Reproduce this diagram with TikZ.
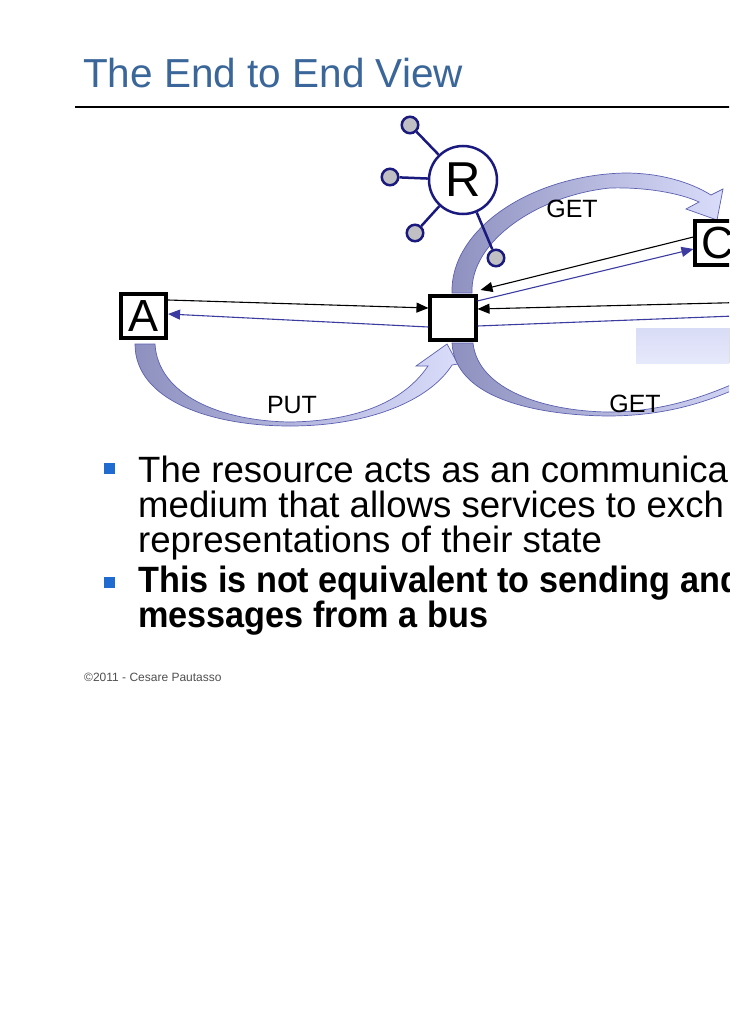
\documentclass[tikz,border=0pt]{standalone}
\usepackage{fontspec}
\setmainfont{Liberation Sans}
\newfontfamily\bnarrow{Liberation Sans}[FakeStretch=0.935]
\usetikzlibrary{arrows.meta}
\definecolor{titleblue}{HTML}{3B6699}
\definecolor{navy}{HTML}{1A1A7E}
\definecolor{linkblue}{HTML}{3C3CA0}
\definecolor{banddark}{HTML}{8E91BF}
\definecolor{bandlight}{HTML}{DADCFA}
\definecolor{bandedge}{HTML}{5C60B0}
\definecolor{satgray}{HTML}{C0C0C4}
\definecolor{bullblue}{HTML}{1F6BD0}
\definecolor{panelA}{HTML}{D9DCF6}
\definecolor{panelB}{HTML}{E6E8FB}
\definecolor{footgray}{HTML}{505050}
\begin{document}
\begin{tikzpicture}[x=1pt,y=-1pt,
  box/.style={draw=black,line width=3.6pt,fill=white,minimum width=45.5pt,minimum height=44.5pt,inner sep=0pt,font=\fontsize{45}{45}\selectfont},
  sat/.style={circle,draw=navy,line width=2.5pt,fill=satgray,minimum size=16.5pt,inner sep=0pt},
  resnode/.style={circle,draw=navy,line width=2.5pt,fill=white,minimum size=68pt,inner sep=0pt,font=\fontsize{49}{49}\selectfont},
  spoke/.style={draw=navy,line width=2.5pt},
  band/.style={draw=bandedge,line width=0.7pt,left color=banddark,right color=bandlight},
  blk/.style={draw=black,line width=1.1pt,-{Triangle[length=12pt,width=10pt]}},
  blu/.style={draw=linkblue,line width=1.1pt,-{Triangle[length=12pt,width=10pt]}},
  lbl/.style={anchor=base,inner sep=0pt,font=\fontsize{25}{25}\selectfont},
  bul/.style={anchor=base west,inner sep=0pt,font=\fontsize{36.6}{37}\selectfont},
]
\path[use as bounding box] (0,0) rectangle (729,1030);
\fill[white] (0,0) rectangle (729,1030);
\clip (0,0) rectangle (729,1030);

% title
\node[anchor=base west,inner sep=0pt,text=titleblue,font=\fontsize{40.5}{41}\selectfont] (title) at (83,88) {The End to End View};
\draw[line width=1.3pt] (75,107) -- (740,107);

% curved block arrows
\path[band] (135,344) .. controls (135,400) and (210,426) .. (290,426)
  .. controls (370,426) and (430,400) .. (452,365)
  -- (458,364) -- (447,344) -- (416,366) -- (428,366)
  .. controls (405,400) and (360,421) .. (290,422)
  .. controls (220,421) and (158,395) .. (155,344) -- cycle;
\path[band] (452,293) .. controls (450,230) and (530,175) .. (625,173)
  .. controls (660,173) and (690,182) .. (711,195)
  -- (723,189) -- (717,220) -- (686,209) -- (699,202)
  .. controls (680,193) and (645,187) .. (610,188)
  .. controls (540,195) and (470,240) .. (472,293) -- cycle;
\path[band] (452,343) .. controls (455,400) and (540,415) .. (607,416)
  .. controls (660,416) and (710,405) .. (770,372)
  -- (770,366)
  .. controls (710,398) and (660,412) .. (607,412)
  .. controls (545,411) and (478,390) .. (473,343) -- cycle;

% shaded panel
\fill[top color=panelA,bottom color=panelB] (636,328) rectangle (760,363);

% resource
\node[sat] (s1) at (410,125) {};
\node[sat] (s2) at (390,177) {};
\node[sat] (s3) at (415,233) {};
\node[sat] (s4) at (496,258) {};
\node[resnode] (R) at (463,180) {R};
\draw[spoke] (R) -- (s1);
\draw[spoke] (R) -- (s2);
\draw[spoke] (R) -- (s3);
\draw[spoke] (R) -- (s4);

% boxes
\node[box] (A) at (143.5,316) {A};
\node[box] (hub) at (453,318) {};
\node[box] (C) at (718,243) {C};
\coordinate (Dtop) at (760,302);
\coordinate (Dbot) at (760,315);

% connectors
\draw[blk] ([yshift=16pt]A.east) -- ([yshift=10pt]hub.west);
\draw[blu] ([yshift=-9pt]hub.west) -- ([yshift=2pt]A.east);
\draw[blk] ([yshift=6pt]C.west) -- ([shift={(3pt,4pt)}]hub.north east);
\draw[blu] ([yshift=-7pt]hub.north east) -- ([yshift=-6pt]C.west);
\draw[blk] (Dtop) -- ([yshift=9pt]hub.east);
\draw[blu] ([yshift=-8pt]hub.east) -- (Dbot);

% labels
\node[lbl] (lget1) at (572,217) {GET};
\node[lbl] (lput) at (292,413) {PUT};
\node[lbl] (lget2) at (635,412) {GET};

% bullets
\fill[bullblue] (104,463) rectangle (115,474);
\fill[bullblue] (104,577) rectangle (115,588);
\node[bul] (t1) at (138,482) {The resource acts as an communica};
\node[bul] (t2) at (138,517) {medium that allows services to exch};
\node[bul] (t3) at (138,552) {representations of their state};
\node[bul,font=\fontsize{36.6}{37}\bnarrow\bfseries] (t4) at (138,592) {This is not equivalent to sending and};
\node[bul,font=\fontsize{36.6}{37}\bnarrow\bfseries] (t5) at (138,627) {messages from a bus};

% footer
\node[anchor=base west,inner sep=0pt,text=footgray,font=\fontsize{12}{12}\selectfont] (foot) at (84,681) {©2011 - Cesare Pautasso};
\end{tikzpicture}
\end{document}
